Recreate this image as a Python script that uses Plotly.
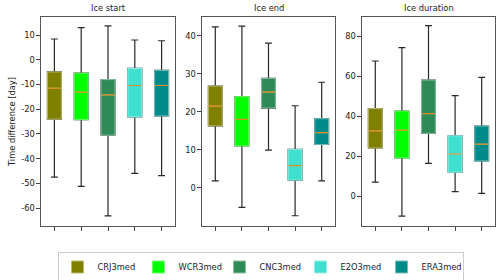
import plotly.graph_objects as go

models = ["CRJ3med", "WCR3med", "CNC3med", "E2O3med", "ERA3med"]
colors = ["#808000", "#00ff00", "#2e8b57", "#40e0d0", "#008b8b"]
panels = ["Ice start", "Ice end", "Ice duration"]

# per panel: [model] values
start_low = [-47.4, -51.2, -63.1, -45.9, -46.8]
start_q1 = [-24.0, -24.2, -30.5, -23.1, -22.7]
start_med = [-11.5, -13.1, -14.2, -10.4, -10.4]
start_q3 = [-4.9, -5.4, -8.0, -3.5, -4.3]
start_high = [8.4, 13.0, 13.7, 8.0, 7.7]

end_low = [1.8, -5.2, 9.9, -7.4, 1.8]
end_q1 = [16.3, 11.0, 21.0, 2.0, 11.4]
end_med = [21.5, 18.0, 25.2, 5.8, 14.5]
end_q3 = [26.8, 24.0, 28.8, 10.1, 18.2]
end_high = [42.4, 42.6, 38.1, 21.6, 27.8]

dur_low = [6.9, -10.1, 16.3, 2.2, 1.3]
dur_q1 = [24.0, 19.0, 31.3, 11.9, 17.5]
dur_med = [32.6, 32.9, 41.2, 21.0, 25.9]
dur_q3 = [43.7, 42.5, 58.0, 30.1, 35.0]
dur_high = [67.5, 74.2, 85.2, 50.2, 59.3]

# y tick labels (hyphen-minus as in the reference)
start_ticks = [-60, -50, -40, -30, -20, -10, 0, 10]
end_ticks = [0, 10, 20, 30, 40]
dur_ticks = [0, 20, 40, 60, 80]

data = [
    (start_low, start_q1, start_med, start_q3, start_high),
    (end_low, end_q1, end_med, end_q3, end_high),
    (dur_low, dur_q1, dur_med, dur_q3, dur_high),
]
ticks = [start_ticks, end_ticks, dur_ticks]

yranges = [[-67.2, 17.3], [-10.1, 45.0], [-15.0, 89.5]]
xdomains = [[41 / 500, 175 / 500], [202 / 500, 335 / 500], [362 / 500, 495 / 500]]
ydomain = [1 - 226 / 280, 1 - 17 / 280]
FS = 8.3


def lighten(hexc, f=0.5):
    h = hexc.lstrip("#")
    r, g, b = int(h[0:2], 16), int(h[2:4], 16), int(h[4:6], 16)
    r = int(r + (255 - r) * f)
    g = int(g + (255 - g) * f)
    b = int(b + (255 - b) * f)
    return f"rgb({r},{g},{b})"


fig = go.Figure()
BW = 0.52
for p, (lo, q1, md, q3, hi) in enumerate(data):
    xa = "x" if p == 0 else f"x{p + 1}"
    ya = "y" if p == 0 else f"y{p + 1}"
    for i, m in enumerate(models):
        pos = [i + 1]
        # whiskers
        fig.add_trace(go.Box(
            x=pos, q1=[q1[i]], median=[md[i]], q3=[q3[i]],
            lowerfence=[lo[i]], upperfence=[hi[i]],
            width=BW, whiskerwidth=0.5,
            fillcolor=colors[i], line=dict(color="#2a2a2a", width=1.2),
            xaxis=xa, yaxis=ya, showlegend=False, hoverinfo="skip",
            boxpoints=False,
        ))
        # coloured box with lighter edge
        fig.add_trace(go.Box(
            x=pos, q1=[q1[i]], median=[md[i]], q3=[q3[i]],
            lowerfence=[q1[i]], upperfence=[q3[i]],
            width=BW, whiskerwidth=0,
            fillcolor=colors[i], line=dict(color=lighten(colors[i], 0.45), width=1),
            xaxis=xa, yaxis=ya, name=m, legendgroup=m,
            showlegend=(p == 0), hoverinfo="skip", boxpoints=False,
        ))
        # median
        fig.add_trace(go.Box(
            x=pos, q1=[md[i]], median=[md[i]], q3=[md[i]],
            lowerfence=[md[i]], upperfence=[md[i]],
            width=BW - 0.04, whiskerwidth=0,
            fillcolor="rgba(0,0,0,0)", line=dict(color="#e08a1e", width=1.2),
            xaxis=xa, yaxis=ya, showlegend=False, hoverinfo="skip",
            boxpoints=False,
        ))

axis_common = dict(showgrid=False, zeroline=False, showline=True, mirror=True,
                   linecolor="#555", linewidth=1.2, ticks="outside",
                   ticklen=3.5, tickcolor="#444", tickwidth=1,
                   automargin=False,
                   tickfont=dict(family="DejaVu Sans", size=FS, color="#222"))

layout = dict(
    width=500, height=280,
    margin=dict(l=0, r=0, t=0, b=0, autoexpand=False),
    paper_bgcolor="white", plot_bgcolor="white",
    boxmode="overlay",
    font=dict(family="DejaVu Sans", size=FS, color="#222"),
    legend=dict(orientation="h", x=0.521, xanchor="center", y=1 - 267 / 280,
                yanchor="middle", bordercolor="#cccccc", borderwidth=1,
                font=dict(size=FS, color="#222"), entrywidth=36,
                entrywidthmode="pixels", itemwidth=30,
                tracegroupgap=0),
    annotations=[],
)
for p in range(3):
    xk = "xaxis" if p == 0 else f"xaxis{p + 1}"
    yk = "yaxis" if p == 0 else f"yaxis{p + 1}"
    ya = "y" if p == 0 else f"y{p + 1}"
    xa = "x" if p == 0 else f"x{p + 1}"
    layout[xk] = dict(axis_common, domain=xdomains[p], range=[0.5, 5.5],
                      tickvals=[1, 2, 3, 4, 5], showticklabels=False, anchor=ya)
    layout[yk] = dict(axis_common, domain=ydomain, range=yranges[p],
                      tickvals=ticks[p], ticktext=[str(t) for t in ticks[p]],
                      anchor=xa)
    layout["annotations"].append(dict(
        text=panels[p], x=(xdomains[p][0] + xdomains[p][1]) / 2,
        y=1 - 8 / 280, xref="paper", yref="paper", showarrow=False,
        xanchor="center", yanchor="middle",
        font=dict(family="DejaVu Sans", size=FS, color="#222")))
layout["yaxis"]["title"] = dict(text="Time difference [day]",
                                font=dict(family="DejaVu Sans", size=FS, color="#222"),
                                standoff=4)

fig.update_layout(**layout)
fig.write_html("out.html", config={"displayModeBar": False},
               post_script="document.body.style.margin='0';document.body.style.overflow='hidden';")
